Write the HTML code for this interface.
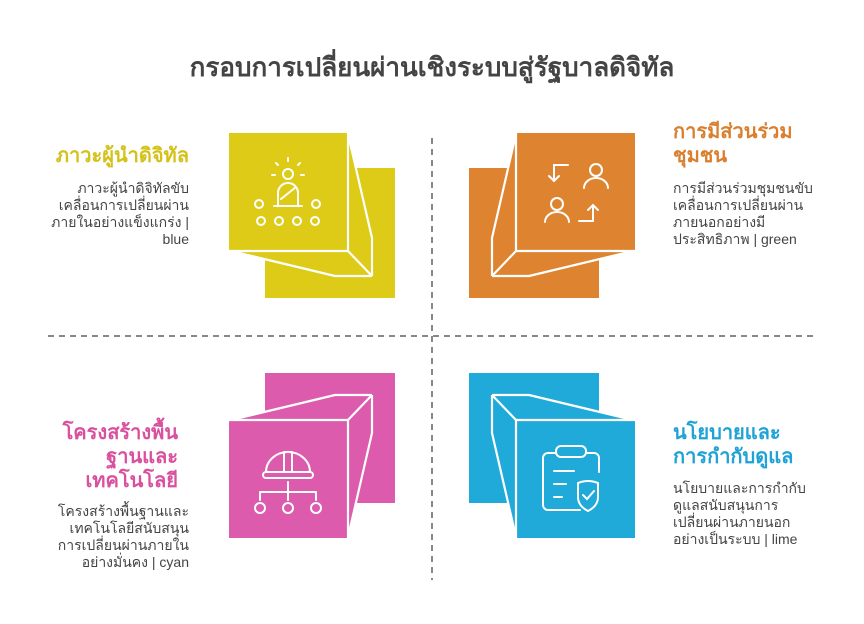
<!DOCTYPE html>
<html><head><meta charset="utf-8"><style>
body{margin:0;width:864px;height:624px;background:#fff;position:relative;overflow:hidden;font-family:"Liberation Sans","Noto Sans CJK SC",sans-serif}
.t{position:absolute;white-space:nowrap}
.h{font-weight:bold;font-size:20px;line-height:24px}
.b{font-size:14px;line-height:17px;color:#444}
.r{text-align:right}
</style></head><body>
<svg width="864" height="624" style="position:absolute;left:0;top:0">
<defs>
<g id="blk">
<rect x="265" y="168" width="130" height="130"/>
<polygon points="348,133 372,238 372,276 335,276 235,252 229,251 229,133"/>
<g fill="none" stroke="#fff" stroke-width="2.2" stroke-linejoin="round">
<polyline points="348,134 372,238 372,276"/>
<line x1="348" y1="251" x2="372" y2="276"/>
<polyline points="235,252 335,276 372,276"/>
<polyline points="229,251 348,251 348,133"/>
</g>
</g>
</defs>
<g fill="#DDCB17"><use href="#blk"/></g>
<g fill="#DE8431" transform="matrix(-1 0 0 1 864 0)"><use href="#blk"/></g>
<g fill="#DC5BAC" transform="matrix(1 0 0 -1 0 671)"><use href="#blk"/></g>
<g fill="#20AAD9" transform="matrix(-1 0 0 -1 864 671)"><use href="#blk"/></g>
<g stroke="#888" stroke-width="2" stroke-dasharray="6,5"><line x1="432" y1="138" x2="432" y2="580"/><line x1="48" y1="336" x2="816" y2="336"/></g>
<g fill="none" stroke="#fff" stroke-width="2" stroke-linecap="round">
<circle cx="288" cy="174" r="5"/><path d="M278 206v-13a10 10 0 0 1 20 0v13M274 206h28M281 199l15-12"/>
<path d="M288 158v3M276 163l2 2M300 163l-2 2M272 175h3M301 175h3"/>
<circle cx="259" cy="204" r="4"/><circle cx="316" cy="204" r="4"/>
<circle cx="261" cy="221" r="4"/><circle cx="279" cy="221" r="4"/><circle cx="297" cy="221" r="4"/><circle cx="315" cy="221" r="4"/>
<circle cx="596" cy="170" r="6"/><path d="M584 188a12 10 0 0 1 24 0"/>
<circle cx="557" cy="204" r="6"/><path d="M545 222a12 10 0 0 1 24 0"/>
<path d="M568 165h-14v16M549 176l5 5 5-5M579 221h14v-16M588 210l5-5 5 5"/>
<path d="M266 472a22 20 0 0 1 44 0M266 472h44a2 2 0 0 1 0 6h-44a2 2 0 0 1 0-6M284 452v20M292 452v20M284 452h8"/>
<path d="M288 482v10M260 492h56M260 492v8M288 492v8M316 492v8"/>
<circle cx="260" cy="508" r="5"/><circle cx="288" cy="508" r="5"/><circle cx="316" cy="508" r="5"/>
<path d="M556 453h-8a5 5 0 0 0-5 5v47a5 5 0 0 0 5 5h32M594 453h-8v0M594 453a5 5 0 0 1 5 5v14"/>
<rect x="556" y="446" width="30" height="11" rx="5"/>
<path d="M554 471h20M554 484h12M554 497h8"/>
<path d="M578 483q10-4 20 0v14q0 9-10 14q-10-5-10-14z M583 495l4 4 7-8"/>
</g>
</svg>
<div class="t" style="left:0;width:864px;top:51px;text-align:center;font-weight:bold;font-size:26px;color:#444;line-height:32px">กรอบการเปลี่ยนผ่านเชิงระบบสู่รัฐบาลดิจิทัล</div>

<div class="t h r" style="right:675px;top:144px;color:#D4C21A">ภาวะผู้นำดิจิทัล</div>
<div class="t b r" style="right:675px;top:180px">ภาวะผู้นำดิจิทัลขับ<br>เคลื่อนการเปลี่ยนผ่าน<br>ภายในอย่างแข็งแกร่ง |<br>blue</div>

<div class="t h" style="left:673px;top:120px;color:#D97F2E">การมีส่วนร่วม<br>ชุมชน</div>
<div class="t b" style="left:673px;top:180px">การมีส่วนร่วมชุมชนขับ<br>เคลื่อนการเปลี่ยนผ่าน<br>ภายนอกอย่างมี<br>ประสิทธิภาพ | green</div>

<div class="t h r" style="right:686px;top:421px;color:#D9509F">โครงสร้างพื้น<br>ฐานและ<br>เทคโนโลยี</div>
<div class="t b r" style="right:675px;top:503px">โครงสร้างพื้นฐานและ<br>เทคโนโลยีสนับสนุน<br>การเปลี่ยนผ่านภายใน<br>อย่างมั่นคง | cyan</div>

<div class="t h" style="left:673px;top:421px;color:#1FA3D6">นโยบายและ<br>การกำกับดูแล</div>
<div class="t b" style="left:673px;top:480px">นโยบายและการกำกับ<br>ดูแลสนับสนุนการ<br>เปลี่ยนผ่านภายนอก<br>อย่างเป็นระบบ | lime</div>
</body></html>
